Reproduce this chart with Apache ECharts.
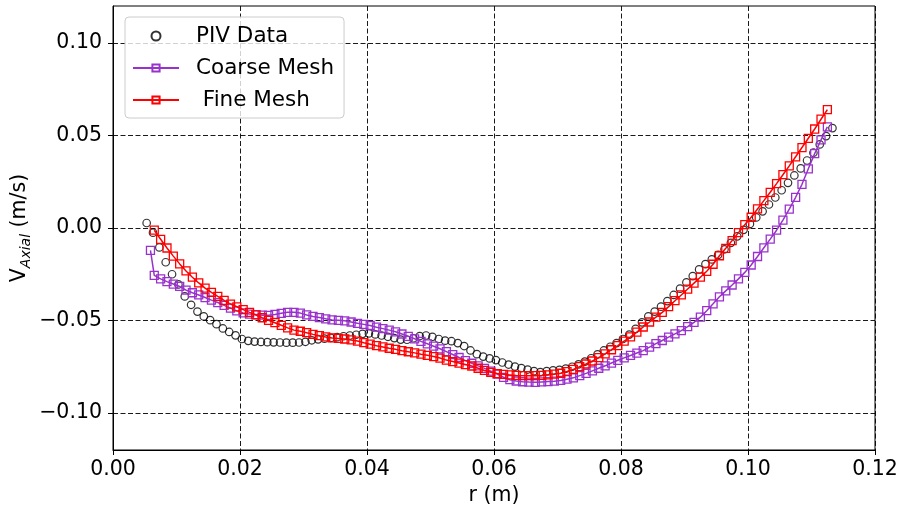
<!DOCTYPE html>
<html>
<head>
<meta charset="utf-8">
<script src="https://cdn.jsdelivr.net/npm/echarts@6/dist/echarts.min.js"></script>
<style>
  html, body { margin: 0; padding: 0; background: #fff; }
  #chart { width: 898px; height: 510px; }
</style>
</head>
<body>
<div id="chart"></div>
<script>
// r (m), V_axial (m/s)
const pivData = [[0.0053,0.0027],[0.0063,-0.0025],[0.0073,-0.0105],[0.0083,-0.0185],[0.0093,-0.0250],[0.0103,-0.0305],[0.0113,-0.0370],[0.0123,-0.0415],[0.0133,-0.0452],[0.0143,-0.0478],[0.0153,-0.0498],[0.0163,-0.0520],[0.0173,-0.0543],[0.0183,-0.0562],[0.0193,-0.0580],[0.0203,-0.0600],[0.0213,-0.0610],[0.0223,-0.0614],[0.0233,-0.0616],[0.0243,-0.0617],[0.0253,-0.0618],[0.0263,-0.0619],[0.0273,-0.0620],[0.0283,-0.0620],[0.0293,-0.0619],[0.0303,-0.0615],[0.0313,-0.0607],[0.0323,-0.0602],[0.0333,-0.0598],[0.0343,-0.0594],[0.0353,-0.0590],[0.0363,-0.0585],[0.0373,-0.0581],[0.0383,-0.0577],[0.0393,-0.0572],[0.0403,-0.0570],[0.0413,-0.0575],[0.0423,-0.0581],[0.0433,-0.0588],[0.0443,-0.0595],[0.0453,-0.0603],[0.0463,-0.0604],[0.0473,-0.0596],[0.0483,-0.0584],[0.0493,-0.0581],[0.0503,-0.0588],[0.0513,-0.0600],[0.0523,-0.0609],[0.0533,-0.0612],[0.0543,-0.0622],[0.0553,-0.0638],[0.0563,-0.0662],[0.0573,-0.0682],[0.0583,-0.0695],[0.0593,-0.0705],[0.0603,-0.0714],[0.0613,-0.0727],[0.0623,-0.0738],[0.0633,-0.0749],[0.0643,-0.0757],[0.0653,-0.0765],[0.0663,-0.0774],[0.0673,-0.0779],[0.0683,-0.0774],[0.0693,-0.0770],[0.0703,-0.0767],[0.0713,-0.0760],[0.0723,-0.0750],[0.0733,-0.0737],[0.0743,-0.0722],[0.0753,-0.0704],[0.0763,-0.0683],[0.0773,-0.0662],[0.0783,-0.0642],[0.0793,-0.0622],[0.0803,-0.0600],[0.0813,-0.0576],[0.0823,-0.0545],[0.0833,-0.0510],[0.0843,-0.0478],[0.0853,-0.0452],[0.0863,-0.0425],[0.0873,-0.0395],[0.0883,-0.0362],[0.0893,-0.0328],[0.0903,-0.0294],[0.0913,-0.0260],[0.0923,-0.0224],[0.0933,-0.0195],[0.0943,-0.0170],[0.0953,-0.0145],[0.0963,-0.0115],[0.0973,-0.0080],[0.0983,-0.0045],[0.0993,-0.0010],[0.1003,0.0022],[0.1013,0.0057],[0.1023,0.0090],[0.1033,0.0127],[0.1043,0.0165],[0.1053,0.0204],[0.1063,0.0244],[0.1073,0.0284],[0.1083,0.0322],[0.1093,0.0365],[0.1103,0.0407],[0.1113,0.0452],[0.1123,0.0497],[0.1133,0.0540]];

const coarseData = [[0.0059,-0.0121],[0.0065,-0.0256],[0.0075,-0.0275],[0.0085,-0.0290],[0.0095,-0.0303],[0.0105,-0.0316],[0.0115,-0.0336],[0.0125,-0.0350],[0.0135,-0.0362],[0.0145,-0.0376],[0.0155,-0.0390],[0.0165,-0.0403],[0.0175,-0.0418],[0.0185,-0.0433],[0.0195,-0.0448],[0.0205,-0.0459],[0.0215,-0.0465],[0.0225,-0.0468],[0.0235,-0.0471],[0.0245,-0.0472],[0.0255,-0.0467],[0.0265,-0.0461],[0.0275,-0.0456],[0.0285,-0.0456],[0.0295,-0.0460],[0.0305,-0.0470],[0.0315,-0.0478],[0.0325,-0.0484],[0.0335,-0.0491],[0.0345,-0.0497],[0.0355,-0.0499],[0.0365,-0.0502],[0.0375,-0.0508],[0.0385,-0.0515],[0.0395,-0.0521],[0.0405,-0.0527],[0.0415,-0.0536],[0.0425,-0.0544],[0.0435,-0.0552],[0.0445,-0.0561],[0.0455,-0.0573],[0.0465,-0.0586],[0.0475,-0.0599],[0.0485,-0.0613],[0.0495,-0.0626],[0.0505,-0.0639],[0.0515,-0.0653],[0.0525,-0.0668],[0.0535,-0.0684],[0.0545,-0.0700],[0.0555,-0.0717],[0.0565,-0.0731],[0.0575,-0.0745],[0.0585,-0.0759],[0.0595,-0.0774],[0.0605,-0.0790],[0.0615,-0.0807],[0.0625,-0.0820],[0.0635,-0.0827],[0.0645,-0.0831],[0.0655,-0.0833],[0.0665,-0.0834],[0.0675,-0.0832],[0.0685,-0.0830],[0.0695,-0.0828],[0.0705,-0.0824],[0.0715,-0.0817],[0.0725,-0.0810],[0.0735,-0.0798],[0.0745,-0.0786],[0.0755,-0.0772],[0.0765,-0.0758],[0.0775,-0.0745],[0.0785,-0.0730],[0.0795,-0.0715],[0.0805,-0.0702],[0.0815,-0.0689],[0.0825,-0.0676],[0.0835,-0.0663],[0.0845,-0.0644],[0.0855,-0.0625],[0.0865,-0.0608],[0.0875,-0.0590],[0.0885,-0.0572],[0.0895,-0.0555],[0.0905,-0.0533],[0.0915,-0.0510],[0.0925,-0.0482],[0.0935,-0.0447],[0.0945,-0.0410],[0.0955,-0.0372],[0.0965,-0.0340],[0.0975,-0.0308],[0.0985,-0.0275],[0.0995,-0.0240],[0.1005,-0.0200],[0.1015,-0.0154],[0.1025,-0.0107],[0.1035,-0.0060],[0.1045,-0.0012],[0.1055,0.0043],[0.1065,0.0102],[0.1075,0.0166],[0.1085,0.0236],[0.1095,0.0320],[0.1105,0.0402],[0.1115,0.0476],[0.1125,0.0547]];

const fineData = [[0.0065,-0.0012],[0.0075,-0.0061],[0.0085,-0.0108],[0.0095,-0.0152],[0.0105,-0.0194],[0.0115,-0.0232],[0.0125,-0.0266],[0.0135,-0.0297],[0.0145,-0.0325],[0.0155,-0.0348],[0.0165,-0.0370],[0.0175,-0.0391],[0.0185,-0.0411],[0.0195,-0.0426],[0.0205,-0.0441],[0.0215,-0.0456],[0.0225,-0.0470],[0.0235,-0.0485],[0.0245,-0.0499],[0.0255,-0.0512],[0.0265,-0.0526],[0.0275,-0.0540],[0.0285,-0.0552],[0.0295,-0.0558],[0.0305,-0.0566],[0.0315,-0.0575],[0.0325,-0.0582],[0.0335,-0.0589],[0.0345,-0.0594],[0.0355,-0.0597],[0.0365,-0.0600],[0.0375,-0.0605],[0.0385,-0.0611],[0.0395,-0.0620],[0.0405,-0.0628],[0.0415,-0.0636],[0.0425,-0.0643],[0.0435,-0.0650],[0.0445,-0.0656],[0.0455,-0.0663],[0.0465,-0.0669],[0.0475,-0.0675],[0.0485,-0.0682],[0.0495,-0.0688],[0.0505,-0.0695],[0.0515,-0.0703],[0.0525,-0.0714],[0.0535,-0.0722],[0.0545,-0.0730],[0.0555,-0.0738],[0.0565,-0.0746],[0.0575,-0.0758],[0.0585,-0.0770],[0.0595,-0.0780],[0.0605,-0.0787],[0.0615,-0.0791],[0.0625,-0.0794],[0.0635,-0.0797],[0.0645,-0.0798],[0.0655,-0.0798],[0.0665,-0.0798],[0.0675,-0.0797],[0.0685,-0.0794],[0.0695,-0.0790],[0.0705,-0.0785],[0.0715,-0.0776],[0.0725,-0.0764],[0.0735,-0.0749],[0.0745,-0.0735],[0.0755,-0.0719],[0.0765,-0.0701],[0.0775,-0.0680],[0.0785,-0.0658],[0.0795,-0.0636],[0.0805,-0.0611],[0.0815,-0.0588],[0.0825,-0.0563],[0.0835,-0.0535],[0.0845,-0.0508],[0.0855,-0.0482],[0.0865,-0.0456],[0.0875,-0.0425],[0.0885,-0.0393],[0.0895,-0.0362],[0.0905,-0.0330],[0.0915,-0.0298],[0.0925,-0.0266],[0.0935,-0.0234],[0.0945,-0.0196],[0.0955,-0.0150],[0.0965,-0.0110],[0.0975,-0.0068],[0.0985,-0.0025],[0.0995,0.0018],[0.1005,0.0058],[0.1015,0.0103],[0.1025,0.0148],[0.1035,0.0193],[0.1045,0.0240],[0.1055,0.0288],[0.1065,0.0336],[0.1075,0.0385],[0.1085,0.0435],[0.1095,0.0485],[0.1105,0.0535],[0.1115,0.0588],[0.1125,0.0640]];

const xTicks = [0, 0.02, 0.04, 0.06, 0.08, 0.10, 0.12];
const yTicks = [-0.10, -0.05, 0.00, 0.05, 0.10];

const FONT = 'DejaVu Sans';
const purple = '#9932CC';
const red = '#ff0000';

const gridLine = { show: true, lineStyle: { color: '#000', width: 0.9, type: [5, 2.5] } };

function fmt(v) {
    return (v < -1e-9 ? '\u2212' : '') + Math.abs(v).toFixed(2);
}

const chart = echarts.init(document.getElementById('chart'), null, { renderer: 'canvas' });

const option = {
    animation: false,
    backgroundColor: '#fff',
    textStyle: { fontFamily: FONT },
    grid: {
        left: 113, right: 23, top: 6, bottom: 60,
        outerBoundsMode: 'none',
        show: true, borderColor: '#000', borderWidth: 1, backgroundColor: 'transparent'
    },
    legend: {
        orient: 'vertical',
        left: 125, top: 17,
        padding: [8, 10, 7, 7],
        itemWidth: 46, itemHeight: 9, itemGap: 10,
        backgroundColor: 'rgba(255,255,255,0.8)',
        borderColor: '#cccccc', borderWidth: 1, borderRadius: 4,
        selectedMode: false,
        textStyle: { fontFamily: FONT, fontSize: 21.5, color: '#000', lineHeight: 22, padding: [0, 0, 0, 12] },
        data: ['PIV Data', 'Coarse Mesh', ' Fine Mesh']
    },
    xAxis: {
        type: 'value',
        min: 0, max: 0.12, interval: 0.02,
        name: 'r (m)',
        nameLocation: 'middle',
        nameGap: 32,
        nameTextStyle: { fontFamily: FONT, fontSize: 20.5, color: '#000' },
        axisLine: { show: true, onZero: false, lineStyle: { color: '#000', width: 1 } },
        axisTick: { show: true, length: 5, lineStyle: { color: '#000' }, customValues: xTicks },
        axisLabel: { customValues: xTicks, formatter: fmt, fontFamily: FONT, fontSize: 20.5, color: '#000', margin: 9 },
        splitLine: gridLine
    },
    yAxis: {
        type: 'value',
        min: -0.12, max: 0.12,
        name: '{v|V}{s|Axial}{v| (m/s)}',
        nameLocation: 'middle',
        nameRotate: 90,
        nameGap: 80,
        nameMoveOverlap: false,
        nameTextStyle: {
            fontFamily: FONT, color: '#000',
            rich: {
                v: { fontFamily: FONT, fontSize: 20.5, color: '#000', verticalAlign: 'top' },
                s: { fontFamily: FONT, fontSize: 14, fontStyle: 'italic', color: '#000', verticalAlign: 'top', padding: [10, 0, 0, 0] }
            }
        },
        axisLine: { show: true, onZero: false, lineStyle: { color: '#000', width: 1 } },
        axisTick: { show: true, length: 5, lineStyle: { color: '#000' }, customValues: yTicks },
        axisLabel: { customValues: yTicks, formatter: fmt, fontFamily: FONT, fontSize: 20.5, color: '#000', margin: 11 },
        splitLine: gridLine
    },
    series: [
        {
            name: 'PIV Data',
            type: 'scatter',
            data: pivData,
            symbol: 'circle',
            symbolSize: 7.5,
            itemStyle: { color: 'rgba(255,255,255,0)', borderColor: '#000', borderWidth: 1.2 },
            emphasis: { disabled: true },
            z: 2
        },
        {
            name: 'Coarse Mesh',
            type: 'line',
            data: coarseData,
            symbol: 'rect',
            symbolSize: 8,
            showAllSymbol: true,
            lineStyle: { color: purple, width: 1.5 },
            itemStyle: { color: 'rgba(255,255,255,0)', borderColor: purple, borderWidth: 1.3 },
            emphasis: { disabled: true },
            z: 3
        },
        {
            name: ' Fine Mesh',
            type: 'line',
            data: fineData,
            symbol: 'rect',
            symbolSize: 8,
            showAllSymbol: true,
            lineStyle: { color: red, width: 1.5 },
            itemStyle: { color: 'rgba(255,255,255,0)', borderColor: red, borderWidth: 1.3 },
            emphasis: { disabled: true },
            z: 4
        }
    ]
};

chart.setOption(option);
</script>
</body>
</html>
